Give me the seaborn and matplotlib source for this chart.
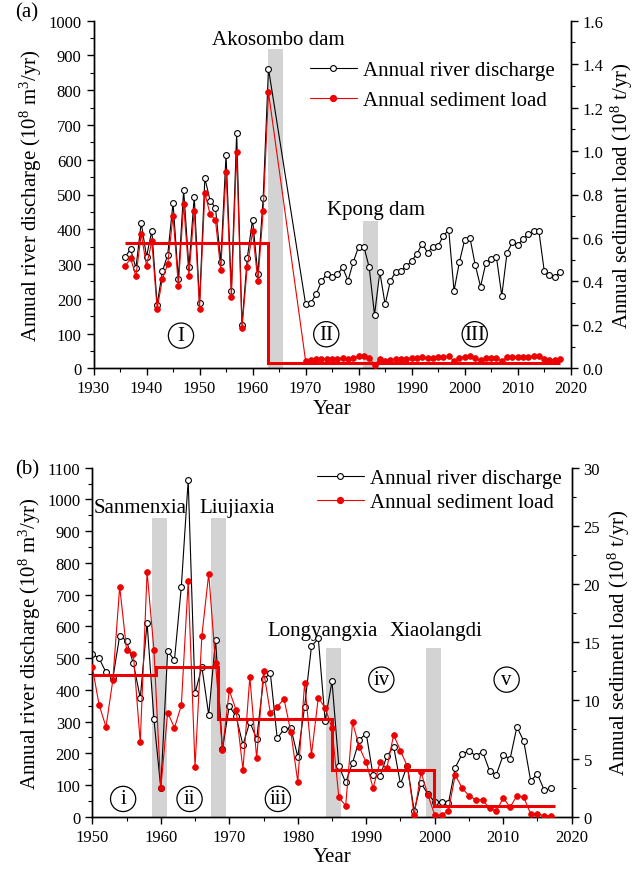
import numpy as np
import pandas as pd
import matplotlib
matplotlib.use("Agg")
import matplotlib.pyplot as plt
import seaborn as sns
from matplotlib.ticker import MultipleLocator
from matplotlib.lines import Line2D

# ---------------- data: panel (a) Volta ----------------
years_a = list(range(1936, 1964)) + list(range(1970, 2019))
discharge_a = [321, 343, 288, 419, 321, 396, 183, 279, 327, 476, 257, 513, 290, 494,
               187, 547, 482, 462, 306, 614, 223, 677, 125, 317, 428, 270, 490, 862,
               185, 188, 214, 250, 272, 262, 270, 290, 252, 306, 350, 350, 290, 154,
               277, 184, 252, 277, 281, 293, 309, 329, 359, 333, 350, 352, 382, 398,
               223, 305, 369, 375, 297, 235, 303, 314, 319, 209, 333, 362, 355, 371,
               385, 395, 395, 281, 268, 264, 276]
sediment_a = [0.472, 0.506, 0.424, 0.618, 0.472, 0.584, 0.274, 0.411, 0.480, 0.701,
              0.381, 0.755, 0.427, 0.726, 0.275, 0.806, 0.709, 0.682, 0.453, 0.904,
              0.330, 0.997, 0.184, 0.467, 0.630, 0.400, 0.723, 1.270,
              0.035, 0.038, 0.041, 0.043, 0.045, 0.045, 0.045, 0.046, 0.044, 0.049,
              0.055, 0.056, 0.049, 0.017, 0.042, 0.033, 0.040, 0.043, 0.044, 0.045,
              0.046, 0.047, 0.050, 0.048, 0.049, 0.050, 0.053, 0.056, 0.033, 0.047,
              0.054, 0.055, 0.046, 0.036, 0.046, 0.047, 0.048, 0.033, 0.050, 0.052,
              0.052, 0.053, 0.054, 0.056, 0.056, 0.043, 0.040, 0.040, 0.042]
step_edges_a = [1936, 1963, 2018]
step_values_a = [0.578, 0.024]
dams_a = ["Akosombo dam", "Kpong dam"]
dam_span_a = [(1963.0, 1965.8), (1980.8, 1983.6)]
dam_top_a = [920, 425]
periods_a = ["I", "II", "III"]

# ---------------- data: panel (b) Yellow River ----------------
years_b = list(range(1950, 2018))
discharge_b = [513, 499, 455, 436, 571, 554, 483, 374, 611, 307, 90, 521, 494, 725,
               1060, 389, 472, 321, 558, 212, 349, 316, 226, 299, 245, 433, 452, 247,
               276, 278, 189, 347, 537, 562, 302, 427, 159, 108, 170, 243, 262, 130,
               127, 190, 221, 103, 161, 18, 106, 71, 47, 47, 42, 155, 197, 208, 192,
               205, 145, 133, 194, 182, 283, 238, 114, 134, 83, 90]
sediment_b = [12.85, 9.60, 7.72, 11.75, 19.77, 14.37, 13.96, 6.38, 21.05, 14.32, 2.43,
              8.95, 7.64, 9.57, 20.24, 4.28, 15.57, 20.89, 13.17, 5.73, 10.85, 9.16,
              4.04, 12.00, 5.02, 12.55, 8.92, 9.46, 10.12, 7.25, 3.00, 11.51, 5.32,
              10.23, 9.35, 7.61, 1.66, 0.95, 8.10, 5.97, 4.66, 2.45, 4.66, 4.15, 7.04,
              5.67, 4.34, 0.14, 3.82, 1.88, 0.14, 0.14, 0.52, 3.60, 2.45, 1.80, 1.45,
              1.45, 0.71, 0.49, 1.61, 0.82, 1.80, 1.66, 0.25, 0.25, 0.08, 0.08]
step_edges_b = [1950, 1959.3, 1968.4, 1985.0, 1999.9, 2017.5]
step_values_b = [12.2, 12.85, 8.4, 4.0, 0.95]
dams_b = ["Sanmenxia", "Liujiaxia", "Longyangxia", "Xiaolangdi"]
dam_span_b = [(1958.7, 1960.9), (1967.4, 1969.5), (1984.1, 1986.3), (1998.7, 2000.9)]
dam_top_b = [941, 941, 532, 532]
periods_b = ["i", "ii", "iii", "iv", "v"]

# ---------------- style ----------------
sns.set_theme(style="ticks")
plt.rcParams["font.family"] = ["Liberation Serif", "DejaVu Serif"]
plt.rcParams["mathtext.fontset"] = "custom"
plt.rcParams["mathtext.rm"] = "Liberation Serif"
plt.rcParams["mathtext.it"] = "Liberation Serif:italic"
for k in ["text.color", "axes.labelcolor", "xtick.color", "ytick.color", "axes.edgecolor"]:
    plt.rcParams[k] = "black"

LBL = 15
TCK = 12
RED = "#ee0000"
MS = 4.2

fig = plt.figure(figsize=(6.34, 8.79), dpi=100)
W, H = 634, 879


def make_axes(l, r, t, b):
    return fig.add_axes([l / W, 1 - b / H, (r - l) / W, (b - t) / H])


def style(ax, ax2, xmaj, ymaj, ymin, y2maj, y2min):
    for a in (ax, ax2):
        a.spines["top"].set_visible(False)
        a.spines["left"].set_linewidth(1.0)
        a.spines["right"].set_linewidth(1.0)
        a.spines["bottom"].set_linewidth(1.0)
        a.tick_params(which="major", direction="out", length=5, width=1.0, labelsize=TCK)
        a.tick_params(which="minor", direction="out", length=3, width=0.8)
    ax.xaxis.set_major_locator(MultipleLocator(xmaj))
    ax.xaxis.set_minor_locator(MultipleLocator(xmaj / 2))
    ax.yaxis.set_major_locator(MultipleLocator(ymaj))
    ax.yaxis.set_minor_locator(MultipleLocator(ymin))
    ax2.yaxis.set_major_locator(MultipleLocator(y2maj))
    ax2.yaxis.set_minor_locator(MultipleLocator(y2min))


def draw_panel(ax, years, dis, sed, edges, steps, dams, spans, tops, dam_txt_pos,
               periods, period_pos, xlim, ylim, y2lim, leg_anchor, leg_spacing):
    ax2 = ax.twinx()
    # dam bands
    for (x0, x1), top in zip(spans, tops):
        ax.bar((x0 + x1) / 2, top, width=x1 - x0, color="#d3d3d3", zorder=0, linewidth=0)
    df_d = pd.DataFrame({"year": years, "discharge": dis})
    df_s = pd.DataFrame({"year": years, "sediment": sed})
    sns.lineplot(data=df_d, x="year", y="discharge", ax=ax, color="black", lw=0.8,
                 marker="o", markersize=MS, markerfacecolor="white",
                 markeredgecolor="black", markeredgewidth=0.8,
                 estimator=None, sort=False, zorder=3)
    sns.lineplot(data=df_s, x="year", y="sediment", ax=ax2, color=RED, lw=0.8,
                 marker="o", markersize=MS, markerfacecolor=RED,
                 markeredgecolor=RED, markeredgewidth=0.5,
                 estimator=None, sort=False, zorder=3)
    ax2.stairs(steps, edges, baseline=None, color=RED, lw=2.2, zorder=4)
    for name, (x, y) in zip(dams, dam_txt_pos):
        ax.text(x, y, name, fontsize=LBL, ha="center", va="center", zorder=5)
    px = [p[0] for p in period_pos]
    py = [p[1] for p in period_pos]
    ax.scatter(px, py, s=330, facecolor="none", edgecolor="black", linewidth=0.9, zorder=5)
    for lab, x, y in zip(periods, px, py):
        ax.text(x, y, lab, fontsize=LBL, ha="center", va="center", zorder=6)
    ax.set_xlim(*xlim)
    ax.set_ylim(*ylim)
    ax2.set_ylim(*y2lim)
    ax.set_xlabel("Year", fontsize=LBL, labelpad=2)
    ax.set_ylabel(r"Annual river discharge (10$^8$ m$^3$/yr)", fontsize=LBL, labelpad=3)
    ax2.set_ylabel(r"Annual sediment load (10$^8$ t/yr)", fontsize=LBL, labelpad=4)
    ax.set_zorder(1)
    ax2.set_zorder(2)
    ax.patch.set_visible(True)
    ax2.patch.set_visible(False)
    handles = [
        Line2D([], [], color="black", lw=0.8, marker="o", markersize=MS,
               markerfacecolor="white", markeredgecolor="black", markeredgewidth=0.8),
        Line2D([], [], color=RED, lw=0.8, marker="o", markersize=MS,
               markerfacecolor=RED, markeredgecolor=RED),
    ]
    ax2.legend(handles, ["Annual river discharge", "Annual sediment load"],
               loc="center left", bbox_to_anchor=leg_anchor, frameon=False,
               fontsize=LBL, borderpad=0, borderaxespad=0, handlelength=2.25,
               handletextpad=0.3, labelspacing=leg_spacing)
    return ax2


# panel (a)
axA = make_axes(93.5, 570.7, 21.7, 369.3)
axA2 = draw_panel(axA, years_a, discharge_a, sediment_a, step_edges_a, step_values_a,
                  dams_a, dam_span_a, dam_top_a, [(1964.8, 947), (1983.3, 458)],
                  periods_a, [(1946.5, 94), (1973.9, 98), (2001.9, 98)],
                  (1930, 2020), (0, 1000), (0, 1.6), (0.4537, 0.815), 0.5)
style(axA, axA2, 10, 100, 50, 0.2, 0.1)
axA2.yaxis.set_major_formatter(matplotlib.ticker.FormatStrFormatter("%.1f"))

# panel (b)
axB = make_axes(92.3, 571.7, 468.7, 817.7)
axB2 = draw_panel(axB, years_b, discharge_b, sediment_b, step_edges_b, step_values_b,
                  dams_b, dam_span_b, dam_top_b,
                  [(1957.0, 976), (1971.1, 976), (1983.6, 586), (2000.2, 586)],
                  periods_b, [(1954.5, 56), (1964.2, 56), (1977.1, 56), (1992.2, 432), (2010.5, 432)],
                  (1950, 2020), (0, 1100), (0, 30), (0.468, 0.935), 0.22)
style(axB, axB2, 10, 100, 50, 5, 2.5)

fig.text(27 / W, 1 - 13 / H, "(a)", fontsize=LBL, ha="center", va="center")
fig.text(27 / W, 1 - 470 / H, "(b)", fontsize=LBL, ha="center", va="center")

fig.savefig("out.png", dpi=100)
